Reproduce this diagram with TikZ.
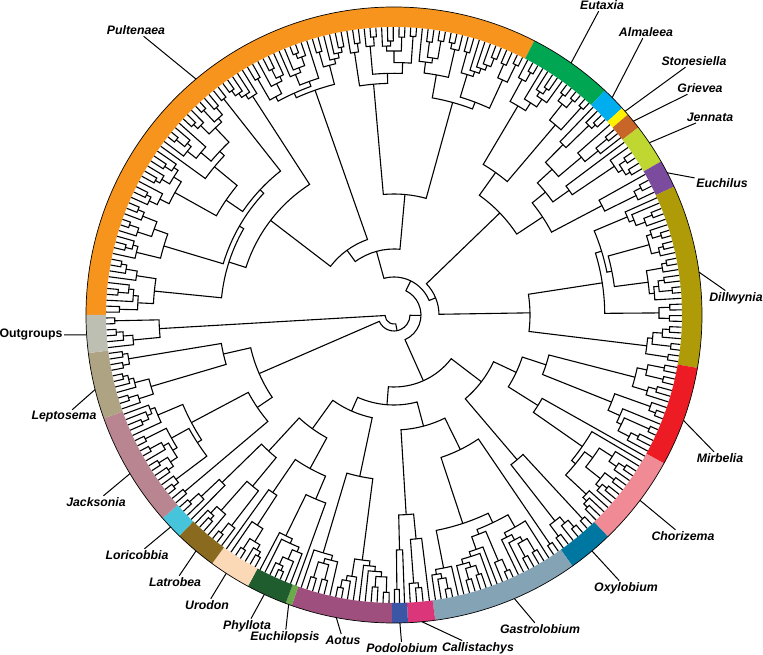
\documentclass[tikz,border=0pt]{standalone}
\usepackage{fontspec}
\setmainfont{Liberation Sans}
\usepackage{tikz}
\usetikzlibrary{calc}

% ring colours
\definecolor{cPult}{HTML}{F7941E}
\definecolor{cEuta}{HTML}{00A651}
\definecolor{cAlma}{HTML}{00AEEF}
\definecolor{cSton}{HTML}{FFF200}
\definecolor{cGriev}{HTML}{C8662A}
\definecolor{cJenn}{HTML}{BFD730}
\definecolor{cEuch}{HTML}{7B4B9E}
\definecolor{cDill}{HTML}{AE9B07}
\definecolor{cMirb}{HTML}{ED1C24}
\definecolor{cChor}{HTML}{F08A94}
\definecolor{cOxy}{HTML}{0077A0}
\definecolor{cGastro}{HTML}{84A3B5}
\definecolor{cCalli}{HTML}{DA3679}
\definecolor{cPodo}{HTML}{3A56A5}
\definecolor{cAotus}{HTML}{9E4F7D}
\definecolor{cEuchp}{HTML}{6BAA4A}
\definecolor{cPhyl}{HTML}{1F5C2E}
\definecolor{cUrod}{HTML}{FCD9B6}
\definecolor{cLatr}{HTML}{8A6A1E}
\definecolor{cLori}{HTML}{45C4DB}
\definecolor{cJack}{HTML}{B88590}
\definecolor{cLept}{HTML}{AEA382}
\definecolor{cOG}{HTML}{BEBFB3}

\def\Rtip{288}
% subtree over angles #1..#2 with #3 tips, root radius #4 (0 = free)
\newcommand\subtree[4]{\ifnum#3<2 \expandafter\leafbranch\else\expandafter\innerbranch\fi{#1}{#2}{#3}{#4}}
\newcommand\leafbranch[4]{\pgfmathsetmacro\tmpa{(#1+#2)/2}\xdef\retang{\tmpa}\xdef\retrad{\Rtip}}
\newcommand\innerbranch[4]{\begingroup
  \pgfmathsetmacro\ff{0.08+0.42*rnd}%
  \pgfmathtruncatemacro\ma{max(1,min(#3-1,round(#3*\ff)))}%
  \pgfmathtruncatemacro\flip{rnd<0.5}%
  \ifnum\flip=1 \pgfmathtruncatemacro\ma{#3-\ma}\fi
  \pgfmathtruncatemacro\mb{#3-\ma}%
  \pgfmathsetmacro\cc{#1+(#2-#1)*\ma/#3}%
  \edef\next{\noexpand\subtree{#1}{\cc}{\ma}{0}}\next
  \edef\angA{\retang}\edef\radA{\retrad}%
  \edef\next{\noexpand\subtree{\cc}{#2}{\mb}{0}}\next
  \edef\angB{\retang}\edef\radB{\retrad}%
  \pgfmathsetmacro\rnode{#4>0 ? #4 : min(\Rtip-12*(#3-1)^0.6*(0.7+0.6*rnd), min(\radA,\radB)-5)}%
  \draw[tree] (\angA:\radA pt) -- (\angA:\rnode pt) arc[start angle=\angA, end angle=\angB, radius=\rnode pt] -- (\angB:\radB pt);
  \pgfmathsetmacro\tmpa{(\angA+\angB)/2}%
  \xdef\retang{\tmpa}\xdef\retrad{\rnode}%
  \endgroup}
% a named clade
\newcommand\clade[5]{\subtree{#2}{#3}{#4}{#5}%
  \expandafter\xdef\csname a@#1\endcsname{\retang}%
  \expandafter\xdef\csname r@#1\endcsname{\retrad}}
% join two named clades at radius #2
\newcommand\linkclades[4]{%
  \edef\angA{\csname a@#3\endcsname}\edef\radA{\csname r@#3\endcsname}%
  \edef\angB{\csname a@#4\endcsname}\edef\radB{\csname r@#4\endcsname}%
  \draw[tree] (\angA:\radA pt) -- (\angA:#2pt) arc[start angle=\angA, end angle=\angB, radius=#2pt] -- (\angB:\radB pt);
  \pgfmathsetmacro\tmpa{(\angA+\angB)/2}%
  \expandafter\xdef\csname a@#1\endcsname{\tmpa}%
  \expandafter\xdef\csname r@#1\endcsname{#2}}

\begin{document}
\begin{tikzpicture}[
  tree/.style={line width=1.1pt},
  lead/.style={line width=1pt},
  taxon/.style={font=\fontsize{12.3}{14}\selectfont\bfseries\itshape, inner sep=1.5pt},
  plain/.style={font=\fontsize{12.3}{14}\selectfont\bfseries, inner sep=1.5pt}
  ]
\useasboundingbox (-394pt,-340pt) rectangle (369pt,315pt);
\pgfmathsetseed{11}
% tree
\clade{OG}{-180}{-172.9}{6}{235}
\clade{Lept}{-172.9}{-160.4}{11}{175}
\clade{Jack}{-160.4}{-138.7}{19}{165}
\linkclades{LJ}{147}{Lept}{Jack}
\clade{Lori}{-138.7}{-134.2}{4}{240}
\clade{Latr}{-134.2}{-126.2}{7}{222}
\clade{Urod}{-126.2}{-118.3}{7}{215}
\clade{Phyl}{-118.3}{-109.4}{8}{200}
\clade{Aotus}{-109.4}{-90.4}{16}{165}
\linkclades{LoLa}{185}{Lori}{Latr}
\linkclades{UrPh}{175}{Urod}{Phyl}
\linkclades{Lowa}{140}{LoLa}{UrPh}
\linkclades{Low}{105}{Lowa}{Aotus}
\clade{Podo}{-90.4}{-87.4}{3}{235}
\clade{Calli}{-87.4}{-82.3}{4}{225}
\clade{Gastro}{-82.3}{-54.6}{24}{150}
\linkclades{PoCa}{200}{Podo}{Calli}
\linkclades{Gas}{115}{PoCa}{Gastro}
\clade{Oxy}{-54.6}{-46}{7}{190}
\clade{Chor}{-46}{-28.8}{15}{170}
\clade{Mirb}{-28.8}{-9.9}{16}{160}
\linkclades{ChMi}{135}{Chor}{Mirb}
\linkclades{Mir}{110}{Oxy}{ChMi}
\linkclades{Ba}{90}{Low}{Gas}
\linkclades{Bb}{72}{Ba}{Mir}
\clade{Dill}{-9.9}{24.6}{30}{136}
\clade{Euch}{24.6}{29.9}{4}{235}
\clade{Jenn}{29.9}{37.5}{6}{215}
\clade{Griev}{37.5}{40.6}{3}{262}
\clade{Ston}{40.6}{42.2}{1}{0}
\clade{Alma}{42.2}{46.8}{4}{240}
\clade{Euta}{46.8}{62.9}{14}{175}
\linkclades{GrSt}{245}{Griev}{Ston}
\linkclades{GrAl}{215}{GrSt}{Alma}
\linkclades{JeAl}{195}{Jenn}{GrAl}
\linkclades{EuJe}{178}{Euch}{JeAl}
\linkclades{Eut}{147}{EuJe}{Euta}
\linkclades{Na}{45}{Dill}{Eut}
\clade{Pa}{62.9}{100}{32}{121}
\clade{Pb}{100}{180}{68}{80}
\linkclades{Pult}{66}{Pa}{Pb}
\linkclades{Nb}{38}{Na}{Pult}
\linkclades{Nc}{27}{Bb}{Nb}
\linkclades{Nd}{16}{LJ}{Nc}
\linkclades{Root}{9}{OG}{Nd}
% ring
\foreach \a/\b/\c in {62.9/180/cPult, 46.8/62.9/cEuta, 42.2/46.8/cAlma, 40.6/42.2/cSton,
  37.5/40.6/cGriev, 29.9/37.5/cJenn, 24.6/29.9/cEuch, -9.9/24.6/cDill, -28.8/-9.9/cMirb,
  -46/-28.8/cChor, -54.6/-46/cOxy, -82.3/-54.6/cGastro, -87.4/-82.3/cCalli, -90.4/-87.4/cPodo,
  -109.4/-90.4/cAotus, -110.6/-109.4/cEuchp, -118.3/-110.6/cPhyl, -126.2/-118.3/cUrod,
  -134.2/-126.2/cLatr, -138.7/-134.2/cLori, -160.4/-138.7/cJack, -172.9/-160.4/cLept,
  -180/-172.9/cOG}
  \fill[\c] (\a:288pt) arc[start angle=\a, end angle=\b, radius=288pt] -- (\b:308pt)
    arc[start angle=\b, end angle=\a, radius=308pt] -- cycle;
\draw[line width=0.7pt] (0,0) circle[radius=308pt];
% labels
\foreach \n/\t/\x/\y/\g in {Pult/Pultenaea/-258/285/130, Euta/Eutaxia/208/310/54.9,
  Alma/Almaleea/252/283/44.9, Ston/Stonesiella/300/254/41.4, Griev/Grievea/306/227/39,
  Jenn/Jennata/316/198/34, Euch/Euchilus/328/132/27.5, Dill/Dillwynia/342/17/8,
  Mirb/Mirbelia/326/-143/-20, Chor/Chorizema/289/-221/-37, Oxy/Oxylobium/232/-273/-50,
  Gastro/Gastrolobium/146/-314/-67, Calli/Callistachys/84/-333/-84.8,
  Podo/Podolobium/8/-333/-88.9, Aotus/Aotus/-51/-325/-100.8, Euchp/Euchilopsis/-109/-322/-110,
  Phyl/Phyllota/-147/-311/-114.9, Urod/Urodon/-187/-290/-123, Latr/Latrobea/-219/-267/-130,
  Lori/Loricobbia/-257/-240/-136.5, Jack/Jacksonia/-298/-187/-149, Lept/Leptosema/-330/-102/-166}{
  \coordinate (p\n) at (\g:308pt);
  \node[taxon] (l\n) at (\x pt,\y pt) {\t};
  \draw[lead] (l\n) -- (p\n);
}
\coordinate (pOG) at (-176.3:308pt);
\node[plain] (lOG) at (-363pt,-20pt) {Outgroups};
\draw[lead] (lOG) -- (pOG);
\end{tikzpicture}
\end{document}
